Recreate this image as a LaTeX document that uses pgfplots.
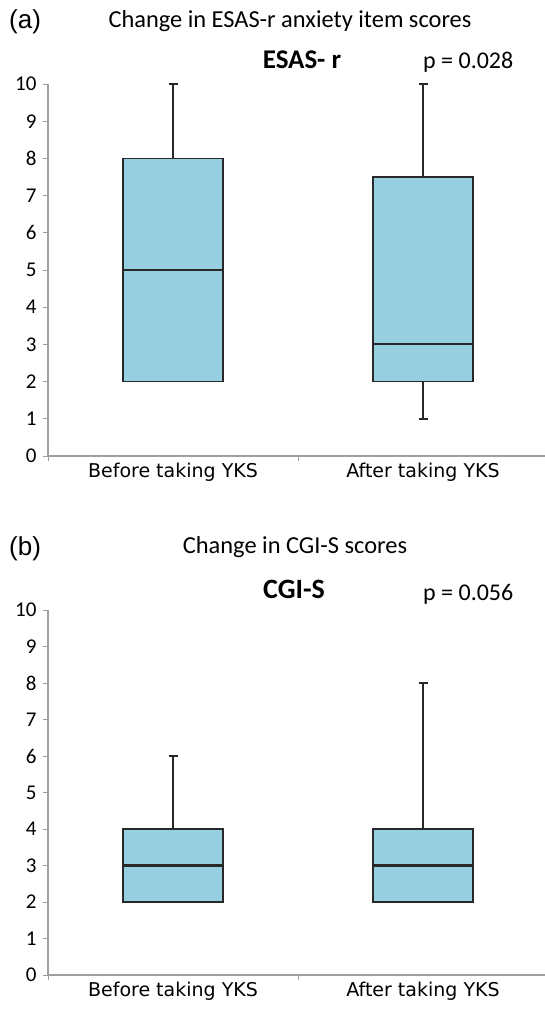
\documentclass[border=0pt]{standalone}
\usepackage{pgfplots}
\pgfplotsset{compat=1.18}
\usepgfplotslibrary{statistics}
\usepackage{fontspec}
\setmainfont{Carlito}
\newfontfamily\verd{DejaVu Sans}
\newfontfamily\arial{Liberation Sans}
\definecolor{boxblue}{RGB}{150,207,223}
\definecolor{axgray}{RGB}{160,160,160}
\definecolor{edge}{RGB}{40,40,40}
\pgfplotsset{myax/.style={
  scale only axis, width=497pt,
  xmin=0.5, xmax=2.488, ymin=0, ymax=10,
  axis x line=bottom, axis y line=left,
  axis line style={axgray, line width=1.2pt, -},
  ytick={0,1,...,10},
  xtick={0.5,1.5}, xticklabels={},
  extra x ticks={1,2},
  extra x tick labels={Before taking YKS, After taking YKS},
  extra x tick style={major tick length=0pt, xticklabel style={font=\verd\fontsize{19}{19}\selectfont, yshift=-4pt}},
  tick style={axgray, line width=1pt},
  tick align=outside, major tick length=5pt,
  yticklabel style={font=\fontsize{21}{21}\selectfont, xshift=-3pt},
  /pgf/number format/assume math mode=true,
  boxplot/draw direction=y,
  clip=false,
}}
\pgfplotsset{mybox/.style={draw=edge, fill=boxblue, line width=1.5pt, solid, mark=none},
  med/.style={draw=edge, line width=2.1pt, mark=none, solid}}
\begin{document}
\begin{tikzpicture}
\path[use as bounding box] (0pt,0pt) rectangle (545pt,-1010pt);
% Panel (a)
\node[anchor=base west, inner sep=0pt] at (9pt,-28pt) {\arial\fontsize{26}{26}\selectfont (a)};
\node[anchor=base, inner sep=0pt] at (290pt,-27pt) {\fontsize{24.4}{24}\selectfont Change in ESAS-r anxiety item scores};
\node[anchor=base, inner sep=0pt] at (302pt,-68pt) {\fontsize{27}{27}\selectfont\bfseries ESAS- r};
\node[anchor=base west, inner sep=0pt] at (423pt,-68pt) {\fontsize{24}{24}\selectfont p = 0.028};
\begin{axis}[myax, height=372pt, at={(48pt,-456pt)}, anchor=south west]
\addplot+[mybox, boxplot prepared={lower whisker=2, lower quartile=2, median=5, upper quartile=8, upper whisker=10, draw position=1, box extend=0.4, whisker extend=0.036}] coordinates {};
\addplot+[mybox, boxplot prepared={lower whisker=1, lower quartile=2, median=3, upper quartile=7.5, upper whisker=10, draw position=2, box extend=0.4, whisker extend=0.036}] coordinates {};
\addplot[med] coordinates {(1.8,3) (2.2,3)};
\end{axis}
% Panel (b)
\node[anchor=base west, inner sep=0pt] at (9pt,-555pt) {\arial\fontsize{26}{26}\selectfont (b)};
\node[anchor=base, inner sep=0pt] at (295pt,-553pt) {\fontsize{24.4}{24}\selectfont Change in CGI-S scores};
\node[anchor=base, inner sep=0pt] at (294pt,-598pt) {\fontsize{28}{28}\selectfont\bfseries CGI-S};
\node[anchor=base west, inner sep=0pt] at (423pt,-600pt) {\fontsize{24}{24}\selectfont p = 0.056};
\begin{axis}[myax, height=365pt, at={(48pt,-975pt)}, anchor=south west]
\addplot+[mybox, boxplot prepared={lower whisker=2, lower quartile=2, median=3, upper quartile=4, upper whisker=6, draw position=1, box extend=0.4, whisker extend=0.036}] coordinates {};
\addplot+[mybox, boxplot prepared={lower whisker=2, lower quartile=2, median=3, upper quartile=4, upper whisker=8, draw position=2, box extend=0.4, whisker extend=0.036}] coordinates {};
\addplot[med] coordinates {(0.8,3) (1.2,3)};
\addplot[med] coordinates {(1.8,3) (2.2,3)};
\end{axis}
\end{tikzpicture}
\end{document}
